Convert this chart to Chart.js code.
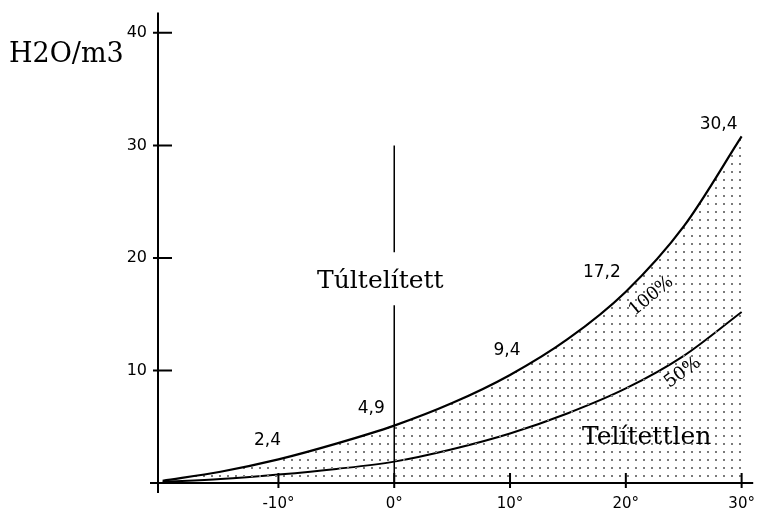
<!DOCTYPE html>
<html>
<head>
<meta charset="utf-8">
<script src="https://cdn.jsdelivr.net/npm/chart.js@4/dist/chart.umd.min.js"></script>
<style>
  body { margin: 0; background: #fff; }
  #wrap { width: 759px; height: 516px; }
</style>
</head>
<body>
<div id="wrap"><canvas id="vapor" width="759" height="516"></canvas></div>
<script>
// temperature (°C) and water vapour content (g H2O / m3)
const temps = [-20, -15, -10, -5, 0, 5, 10, 15, 20, 25, 30];
const sat100 = [0.2, 1.0, 2.1, 3.5, 5.1, 7.1, 9.6, 12.8, 17.0, 22.8, 30.8];
const sat50 = [0.1, 0.35, 0.75, 1.25, 1.9, 3.0, 4.4, 6.2, 8.4, 11.3, 15.2];

const xTicks = [-10, 0, 10, 20, 30];
const xTickLabels = ['-10°', '0°', '10°', '20°', '30°'];
const yTicks = [10, 20, 30, 40];

// values written along the 100% curve
const markTemps = [-10, 0, 10, 20, 30];
const markTexts = ['2,4', '4,9', '9,4', '17,2', '30,4'];
const markOffsets = [[-11, -19], [-23, -17], [-3, -24], [-24, -19], [-23, -12]];

// the vertical line at 0° (broken where the label sits)
const zeroLineY = [30, 20.5, null, 15.8, 0];

function dotPattern() {
    const c = document.createElement('canvas');
    c.width = 8;
    c.height = 8;
    const g = c.getContext('2d');
    g.fillStyle = '#7a7a7a';
    g.fillRect(3, 3, 2, 2);
    return g.createPattern(c, 'repeat');
}

function points(xs, ys) {
    return xs.map((x, i) => ({ x: x, y: ys[i] }));
}

const decor = {
    id: 'decor',
    afterDatasetsDraw(chart) {
        const ctx = chart.ctx;
        const xs = chart.scales.x;
        const ys = chart.scales.y;
        const x0 = xs.getPixelForValue(xs.min);
        const y0 = ys.getPixelForValue(0);
        ctx.save();
        ctx.strokeStyle = '#000';
        ctx.lineWidth = 2;
        // axes
        ctx.beginPath();
        ctx.moveTo(x0 - 8, y0);
        ctx.lineTo(chart.chartArea.right, y0);
        ctx.moveTo(x0, chart.chartArea.top);
        ctx.lineTo(x0, y0 + 10);
        ctx.stroke();
        // tick marks
        ctx.beginPath();
        for (const t of xTicks) {
            const px = xs.getPixelForValue(t);
            ctx.moveTo(px, y0 - 10);
            ctx.lineTo(px, y0 + 5);
        }
        for (const t of yTicks) {
            const py = ys.getPixelForValue(t);
            ctx.moveTo(x0 - 5, py);
            ctx.lineTo(x0 + 14, py);
        }
        ctx.stroke();

        // values on the 100% curve
        ctx.fillStyle = '#000';
        ctx.font = '17px "DejaVu Sans", sans-serif';
        ctx.textAlign = 'center';
        ctx.textBaseline = 'middle';
        markTemps.forEach((t, i) => {
            const k = temps.indexOf(t);
            const px = xs.getPixelForValue(t) + markOffsets[i][0];
            const py = ys.getPixelForValue(sat100[k]) + markOffsets[i][1];
            ctx.fillText(markTexts[i], px, py);
        });

        // serif captions
        ctx.font = '27px "DejaVu Serif", serif';
        ctx.textAlign = 'left';
        ctx.textBaseline = 'alphabetic';
        ctx.fillText('H2O/m3', 9, 62);

        ctx.font = '25px "DejaVu Serif", serif';
        ctx.textAlign = 'center';
        ctx.textBaseline = 'middle';
        ctx.fillText('Túltelített', xs.getPixelForValue(-1.2), ys.getPixelForValue(17.9));
        ctx.fillText('Telítettlen', xs.getPixelForValue(21.8), ys.getPixelForValue(4.0));

        ctx.font = '18px "DejaVu Serif", serif';
        ctx.save();
        ctx.translate(xs.getPixelForValue(22.2), ys.getPixelForValue(16.6));
        ctx.rotate(-40 * Math.PI / 180);
        ctx.fillText('100%', 0, 0);
        ctx.restore();
        ctx.save();
        ctx.translate(xs.getPixelForValue(24.9), ys.getPixelForValue(9.8));
        ctx.rotate(-36 * Math.PI / 180);
        ctx.fillText('50%', 0, 0);
        ctx.restore();
        ctx.restore();
    }
};

new Chart(document.getElementById('vapor'), {
    type: 'line',
    data: {
        datasets: [
            {
                label: '100%',
                data: points(temps, sat100),
                borderColor: '#000',
                borderWidth: 2.2,
                backgroundColor: dotPattern(),
                fill: 'origin',
                cubicInterpolationMode: 'monotone',
                pointRadius: 0
            },
            {
                label: '50%',
                data: points(temps, sat50),
                borderColor: '#000',
                borderWidth: 2,
                fill: false,
                cubicInterpolationMode: 'monotone',
                pointRadius: 0
            },
            {
                label: '0°',
                data: zeroLineY.map(v => ({ x: 0, y: v })),
                borderColor: '#000',
                borderWidth: 1.5,
                fill: false,
                spanGaps: false,
                pointRadius: 0
            }
        ]
    },
    options: {
        responsive: false,
        animation: false,
        layout: { padding: { left: 0, right: 4, top: 6, bottom: 0 } },
        plugins: {
            legend: { display: false },
            tooltip: { enabled: false }
        },
        scales: {
            x: {
                type: 'linear',
                min: -20.4,
                max: 31,
                grid: { display: false },
                border: { display: false },
                afterBuildTicks: (scale) => { scale.ticks = xTicks.map(v => ({ value: v })); },
                afterFit: (scale) => { scale.height = 33; },
                ticks: {
                    padding: 4,
                    color: '#000',
                    maxRotation: 0,
                    font: { family: '"DejaVu Sans", sans-serif', size: 15 },
                    callback: (v) => xTickLabels[xTicks.indexOf(v)]
                }
            },
            y: {
                min: 0,
                max: 41.8,
                grid: { display: false },
                border: { display: false },
                afterBuildTicks: (scale) => { scale.ticks = yTicks.map(v => ({ value: v })); },
                afterFit: (scale) => { scale.width = 158; },
                ticks: {
                    padding: 3,
                    color: '#000',
                    font: { family: '"DejaVu Sans", sans-serif', size: 16 }
                }
            }
        }
    },
    plugins: [decor]
});
</script>
</body>
</html>
